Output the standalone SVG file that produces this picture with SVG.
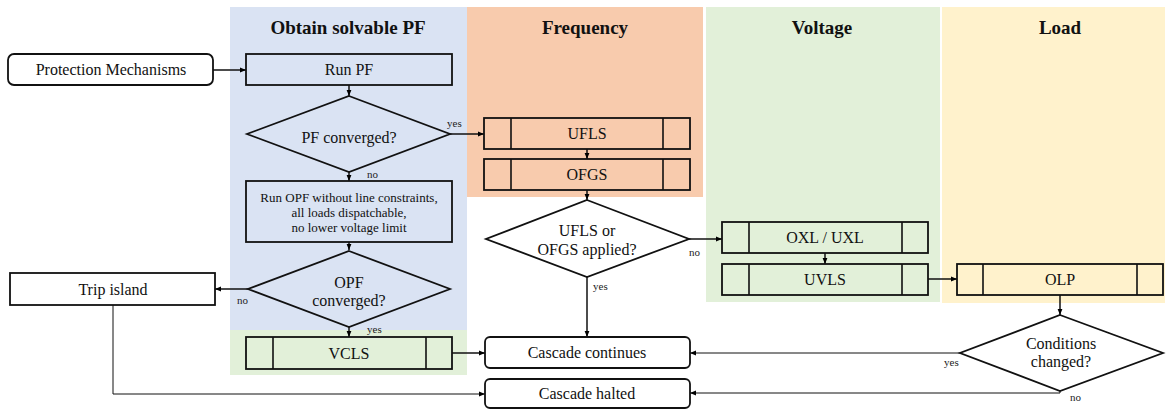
<svg xmlns="http://www.w3.org/2000/svg" width="1171" height="410" viewBox="0 0 1171 410">
<defs>
<marker id="ah" viewBox="0 0 10 10" refX="10" refY="5" markerWidth="6" markerHeight="6" orient="auto" markerUnits="userSpaceOnUse">
<path d="M0,1 L10,5 L0,9 z" fill="#000"/>
</marker>
<style>
.title{font-size:19px;font-weight:bold;text-anchor:middle;fill:#111;}
.lbl{font-size:16px;text-anchor:middle;fill:#111;}
.sm{font-size:13px;text-anchor:middle;fill:#111;}
.tiny{font-size:11px;fill:#222;}
.node{stroke:#111;stroke-width:1.8;}
.inner{stroke:#111;stroke-width:1.6;fill:none;}
.conn{stroke:#111;stroke-width:1.5;fill:none;marker-end:url(#ah);}
.thin{stroke:#111;stroke-width:1;fill:none;marker-end:url(#ah);}
</style>
</defs>
<rect width="1171" height="410" fill="#fff"/>
<g id="panels">
<rect x="230" y="7" width="237" height="323" fill="#dae3f3"/>
<rect x="230" y="330" width="237" height="45" fill="#e2f0d9"/>
<rect x="467" y="7" width="236" height="190" fill="#f8cbad"/>
<rect x="706" y="7" width="234" height="295" fill="#e2f0d9"/>
<rect x="942" y="7" width="223" height="296" fill="#fff2cc"/>
<text font-family="Liberation Serif" class="title" x="348" y="34">Obtain solvable PF</text>
<text font-family="Liberation Serif" class="title" x="585" y="34">Frequency</text>
<text font-family="Liberation Serif" class="title" x="822" y="34">Voltage</text>
<text font-family="Liberation Serif" class="title" x="1060" y="34">Load</text>
</g>
<g id="connectors">
<path class="conn" d="M213,70 H246"/>
<path class="conn" d="M349,85 V96"/>
<path class="conn" d="M450,134 H484"/>
<path class="conn" d="M349,172 V181"/>
<path class="conn" d="M349,242 V250"/>
<path class="conn" d="M248,289 H215"/>
<path class="conn" d="M349,327 V337"/>
<path class="conn" d="M452,353 H485"/>
<path class="thin" d="M113,305 V394 H485"/>
<path class="conn" d="M587,149 V159"/>
<path class="conn" d="M587,190 V200"/>
<path class="conn" d="M689,239 H722"/>
<path class="conn" d="M587,277 V337"/>
<path class="conn" d="M825,253 V264"/>
<path class="conn" d="M928,279 H957"/>
<path class="conn" d="M1060,295 V315"/>
<path class="thin" d="M960,353 H690"/>
<path class="thin" d="M1060,391 V393 H690"/>
<text font-family="Liberation Serif" class="tiny" x="447" y="127">yes</text>
<text font-family="Liberation Serif" class="tiny" x="367" y="178">no</text>
<text font-family="Liberation Serif" class="tiny" x="237" y="304">no</text>
<text font-family="Liberation Serif" class="tiny" x="367" y="333">yes</text>
<text font-family="Liberation Serif" class="tiny" x="689" y="256">no</text>
<text font-family="Liberation Serif" class="tiny" x="593" y="290">yes</text>
<text font-family="Liberation Serif" class="tiny" x="944" y="366">yes</text>
<text font-family="Liberation Serif" class="tiny" x="1070" y="401">no</text>
</g>
<g id="protection"><rect class="node" x="8" y="54" width="205" height="31" rx="6" fill="#fff"/><text font-family="Liberation Serif" class="lbl" x="111" y="75">Protection Mechanisms</text></g>
<g id="runpf"><rect class="node" x="246" y="54" width="206" height="31" fill="#dae3f3"/><text font-family="Liberation Serif" class="lbl" x="349" y="75">Run PF</text></g>
<g id="pfconv"><polygon class="node" points="349,96 450,134 349,172 247,134" fill="#dae3f3"/><text font-family="Liberation Serif" class="lbl" x="349" y="143">PF converged?</text></g>
<g id="runopf"><rect class="node" x="246" y="181" width="206" height="61" fill="#dae3f3"/>
<text font-family="Liberation Serif" class="sm" x="349" y="202">Run OPF without line constraints,</text>
<text font-family="Liberation Serif" class="sm" x="349" y="217">all loads dispatchable,</text>
<text font-family="Liberation Serif" class="sm" x="349" y="232">no lower voltage limit</text></g>
<g id="opfconv"><polygon class="node" points="349,251 450,289 349,327 248,289" fill="#dae3f3"/><text font-family="Liberation Serif" class="lbl" x="349" y="288">OPF</text><text font-family="Liberation Serif" class="lbl" x="349" y="306">converged?</text></g>
<g id="trip"><rect class="node" x="10" y="273" width="205" height="32" fill="#fff"/><text font-family="Liberation Serif" class="lbl" x="113" y="294.5">Trip island</text></g>
<g id="vcls"><rect class="node" x="246" y="337" width="206" height="32" fill="#e2f0d9"/><path class="inner" d="M273,337 V369 M426,337 V369"/><text font-family="Liberation Serif" class="lbl" x="349" y="358.5">VCLS</text></g>
<g id="ufls"><rect class="node" x="484" y="118" width="206" height="31" fill="#f8cbad"/><path class="inner" d="M511,118 V149 M663,118 V149"/><text font-family="Liberation Serif" class="lbl" x="587" y="139">UFLS</text></g>
<g id="ofgs"><rect class="node" x="484" y="159" width="206" height="31" fill="#f8cbad"/><path class="inner" d="M511,159 V190 M663,159 V190"/><text font-family="Liberation Serif" class="lbl" x="587" y="180">OFGS</text></g>
<g id="applied"><polygon class="node" points="587,200 689,239 587,277 486,239" fill="#fff"/><text font-family="Liberation Serif" class="lbl" x="587" y="236">UFLS or</text><text font-family="Liberation Serif" class="lbl" x="587" y="255">OFGS applied?</text></g>
<g id="oxl"><rect class="node" x="722" y="222" width="206" height="31" fill="#e2f0d9"/><path class="inner" d="M749,222 V253 M902,222 V253"/><text font-family="Liberation Serif" class="lbl" x="825" y="243">OXL / UXL</text></g>
<g id="uvls"><rect class="node" x="722" y="264" width="206" height="31" fill="#e2f0d9"/><path class="inner" d="M749,264 V295 M902,264 V295"/><text font-family="Liberation Serif" class="lbl" x="825" y="285">UVLS</text></g>
<g id="olp"><rect class="node" x="957" y="264" width="206" height="31" fill="#fff2cc"/><path class="inner" d="M983,264 V295 M1137,264 V295"/><text font-family="Liberation Serif" class="lbl" x="1060" y="285">OLP</text></g>
<g id="cond"><polygon class="node" points="1060,315 1163,353 1060,391 960,353" fill="#fff"/><text font-family="Liberation Serif" class="lbl" x="1061" y="349">Conditions</text><text font-family="Liberation Serif" class="lbl" x="1061" y="367">changed?</text></g>
<g id="continues"><rect class="node" x="485" y="337" width="205" height="31" rx="5" fill="#fff"/><text font-family="Liberation Serif" class="lbl" x="587" y="358">Cascade continues</text></g>
<g id="halted"><rect class="node" x="485" y="379" width="205" height="29" rx="5" fill="#fff"/><text font-family="Liberation Serif" class="lbl" x="587" y="399">Cascade halted</text></g>
</svg>
